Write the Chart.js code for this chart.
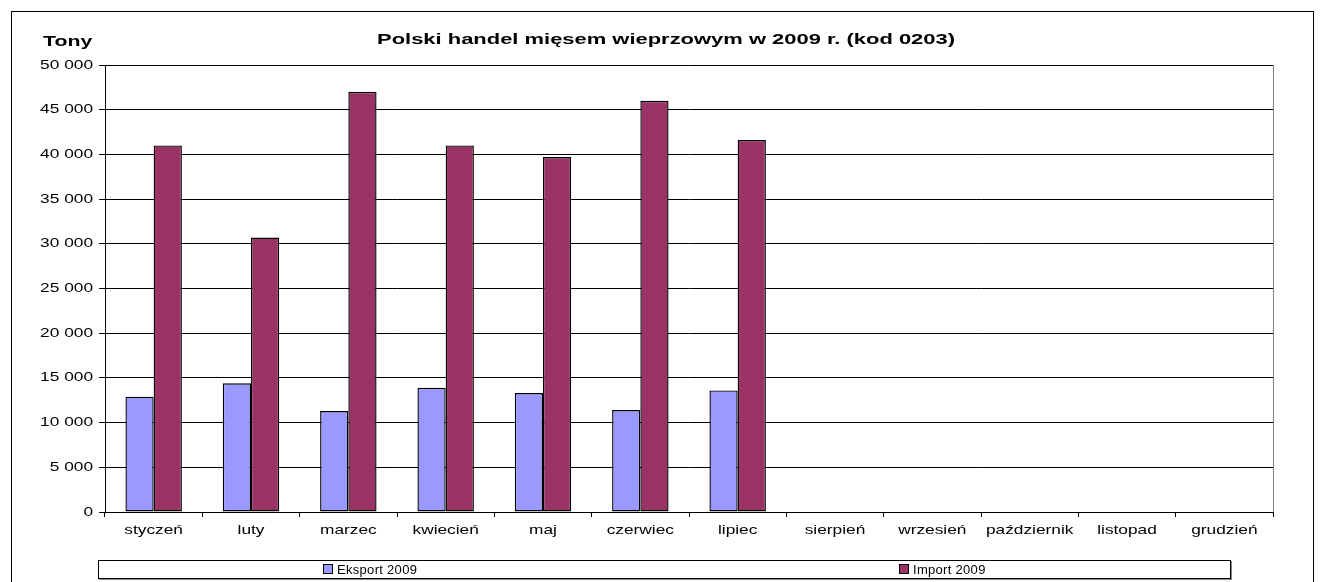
<!DOCTYPE html>
<html>
<head>
<meta charset="utf-8">
<script src="https://cdn.jsdelivr.net/npm/chart.js@4/dist/chart.umd.min.js"></script>
<style>
  body { margin: 0; background: #fff; font-family: "Liberation Sans", Arial, sans-serif; }
  #wrap { position: relative; width: 1322px; height: 582px; overflow: hidden; }
  #frame { position: absolute; left: 11px; top: 11px; width: 1301px; height: 600px; border: 1px solid #000; }
  #legend { position: absolute; left: 98px; top: 560px; width: 1131px; height: 17px; border: 1px solid #000;
            box-shadow: 1px 1px 0 #888; font-size: 13px; }
  .item { position: absolute; top: 1px; white-space: nowrap; letter-spacing: 0.3px; }
  .sw { display: inline-block; width: 8px; height: 8px; border: 1px solid #000; margin-right: 4px; vertical-align: 0px; }
  canvas { position: absolute; left: 0; top: 0; }
</style>
</head>
<body>
<div id="wrap">
  <div id="frame"></div>
  <canvas id="myChart" width="1322" height="582"></canvas>
  <div id="legend">
    <span class="item" style="left:224px"><span class="sw" style="background:#9999FF"></span>Eksport 2009</span>
    <span class="item" style="left:800px"><span class="sw" style="background:#993366"></span>Import 2009</span>
  </div>
</div>
<script>
// months
const months = ['styczeń', 'luty', 'marzec', 'kwiecień', 'maj', 'czerwiec', 'lipiec', 'sierpień', 'wrzesień', 'październik', 'listopad', 'grudzień'];
// tons, only Jan-Jul known
const eksport2009 = [12900, 14400, 11300, 13900, 13300, 11400, 13600, null, null, null, null, null];
const import2009 = [41000, 30700, 47000, 41000, 39700, 46000, 41600, null, null, null, null, null];

const canvasElement = document.getElementById('myChart');
const FONT = '"Liberation Sans", Arial';

// the source picture has wide text, so labels are drawn stretched
function wideText(ctx, text, x, y, align, font, sx) {
  ctx.save();
  ctx.font = font;
  ctx.textAlign = align;
  ctx.textBaseline = 'middle';
  ctx.translate(x, y);
  ctx.scale(sx, 1);
  ctx.fillText(text, 0, 0);
  ctx.restore();
}

//title, "Tony", tick labels and right edge of plot
const extras = {
  id: 'extras',
  afterDraw(chart) {
    const ctx = chart.ctx;
    const a = chart.chartArea;
    ctx.save();
    ctx.strokeStyle = '#808080';
    ctx.lineWidth = 1;
    ctx.beginPath();
    ctx.moveTo(Math.round(a.right) + 0.5, a.top);
    ctx.lineTo(Math.round(a.right) + 0.5, a.bottom);
    ctx.stroke();
    ctx.fillStyle = '#000';

    const title = 'Polski handel mięsem wieprzowym w 2009 r. (kod 0203)';
    ctx.font = 'bold 15px ' + FONT;
    const tw = ctx.measureText(title).width;
    wideText(ctx, title, 666, 40, 'center', 'bold 15px ' + FONT, 578 / tw);
    wideText(ctx, 'Tony', 43, 42, 'left', 'bold 15px ' + FONT, 1.42);

    const ys = chart.scales.y;
    ys.ticks.forEach((t, i) => {
      wideText(ctx, t.label, 93, ys.getPixelForTick(i), 'right', '13px ' + FONT, 1.33);
    });
    const xs = chart.scales.x;
    xs.ticks.forEach((t, i) => {
      wideText(ctx, t.label, xs.getPixelForTick(i), 530, 'center', '13px ' + FONT, 1.33);
    });
    ctx.restore();
  }
};

let config = {
  type: 'bar',
  data: {
    labels: months,
    datasets: [{
      label: 'Eksport 2009',
      data: eksport2009,
      backgroundColor: '#9999FF',
      borderColor: '#000',
      borderWidth: 1.4,
      borderSkipped: false,
      inflateAmount: 0
    }, {
      label: 'Import 2009',
      data: import2009,
      backgroundColor: '#993366',
      borderColor: '#000',
      borderWidth: 1.4,
      borderSkipped: false,
      inflateAmount: 0
    }]
  },
  options: {
    responsive: false,
    animation: false,
    layout: {
      padding: { left: 0, top: 65, right: 49, bottom: 0 }
    },
    categoryPercentage: 0.58,
    barPercentage: 1,
    scales: {
      x: {
        afterFit: (s) => { s.height = 70; },
        grid: { drawOnChartArea: false, drawTicks: true, tickLength: 5, color: '#000', offset: true },
        border: { color: '#000' },
        ticks: { display: false, autoSkip: false, maxRotation: 0 }
      },
      y: {
        min: 0,
        max: 50000,
        afterFit: (s) => { s.width = 105; },
        grid: { color: '#000', tickLength: 6 },
        border: { color: '#000' },
        ticks: {
          display: false,
          stepSize: 5000,
          callback: (v) => v.toString().replace(/\B(?=(\d{3})+(?!\d))/g, ' ')
        }
      }
    },
    plugins: {
      legend: { display: false },
      title: { display: false },
      tooltip: { enabled: false }
    }
  },
  plugins: [extras]
};

let newChart = new Chart(canvasElement, config);
</script>
</body>
</html>
